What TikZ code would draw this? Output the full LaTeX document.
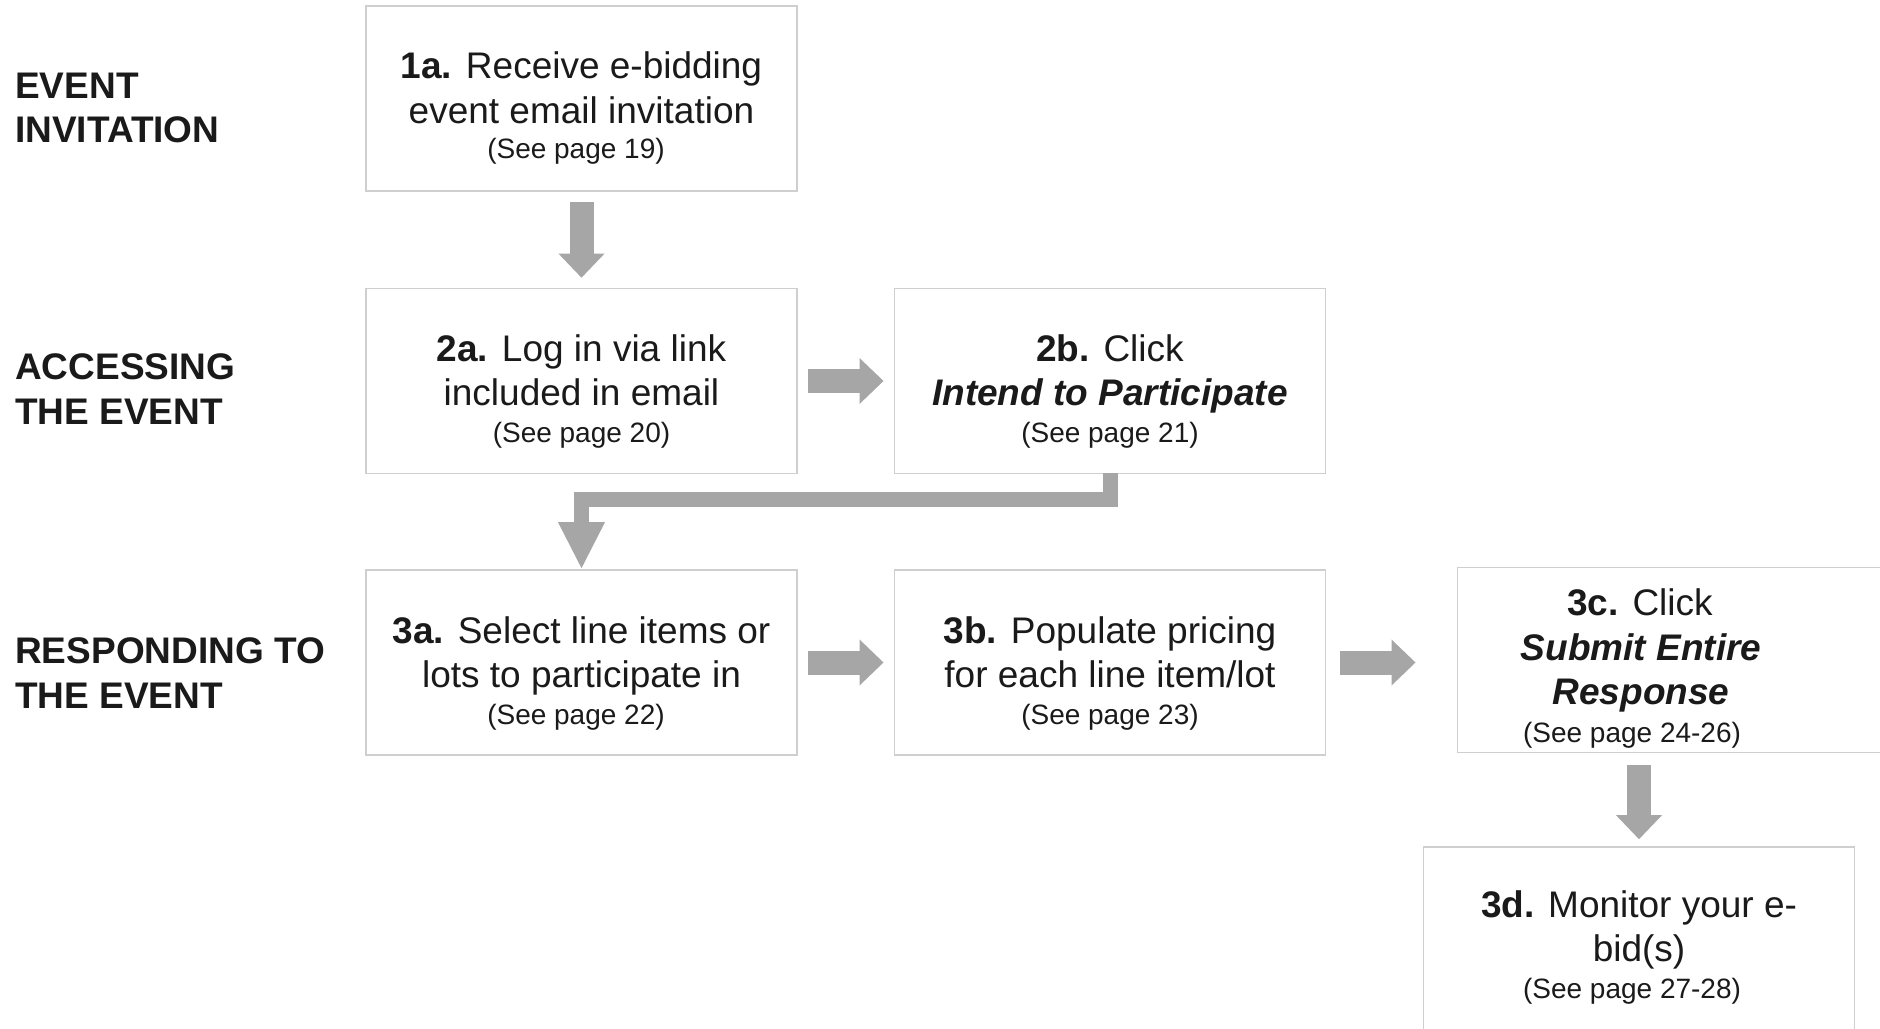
\documentclass[tikz,border=0pt]{standalone}
\usepackage{fontspec}
\setmainfont{Liberation Sans}
\usetikzlibrary{arrows.meta,calc}
\definecolor{boxline}{HTML}{CFCFCF}
\definecolor{arrowgray}{HTML}{A6A6A6}
\definecolor{txt}{HTML}{1A1A1A}
\tikzset{
  stepbox/.style={draw=boxline, line width=1.1pt, fill=white, minimum width=323.25pt, minimum height=138.5pt, inner sep=0pt, outer sep=0pt},
  blockarrow/.style={draw=arrowgray, line width=18pt, line cap=butt, -{Triangle[length=18pt,width=34.5pt,line width=0pt]}},
  elbowarrow/.style={draw=arrowgray, line width=11.25pt, line cap=butt, line join=miter, -{Triangle[length=34.5pt,width=35.25pt,line width=0pt]}},
  tx/.style={anchor=base, inner sep=0pt, text=txt, font=\fontsize{27.75}{33}\selectfont},
  sm/.style={anchor=base, inner sep=0pt, text=txt, font=\fontsize{21}{25}\selectfont},
  lab/.style={anchor=base west, inner sep=0pt, text=txt, font=\fontsize{27.75}{33}\selectfont\bfseries}
}
\begin{document}
\begin{tikzpicture}[x=0.75pt,y=-0.75pt]
\useasboundingbox (0,0) rectangle (1880,1028);
\clip (0,0) rectangle (1880,1028);
\fill[white] (0,0) rectangle (1880,1028);

% stage labels
\node[lab] (l1a) at (15,98) {EVENT};
\node[lab] (l1b) at (15,142) {INVITATION};
\node[lab] (l2a) at (15,379) {ACCESSING};
\node[lab] (l2b) at (15,424) {THE EVENT};
\node[lab] (l3a) at (15,663) {RESPONDING TO};
\node[lab] (l3b) at (15,708) {THE EVENT};

% boxes
\node[stepbox] (b1a) at (581.5,98.5) {};
\node[stepbox] (b2a) at (581.5,381) {};
\node[stepbox] (b2b) at (1110,381) {};
\node[stepbox] (b3a) at (581.5,662.5) {};
\node[stepbox] (b3b) at (1110,662.5) {};
\node[stepbox] (b3c) at (1673,660) {};
\node[stepbox] (b3d) at (1639,939.5) {};

% box texts
\node[tx] (t1a1) at (581.5,78) {\textbf{1a.} Receive e-bidding};
\node[tx] (t1a2) at (581.5,123) {event email invitation};
\node[sm] (t1a3) at (576,158) {(See page 19)};

\node[tx] (t2a1) at (581.5,361) {\textbf{2a.} Log in via link};
\node[tx] (t2a2) at (581.5,405) {included in email};
\node[sm] (t2a3) at (581.5,442) {(See page 20)};

\node[tx] (t2b1) at (1110,361) {\textbf{2b.} Click};
\node[tx] (t2b2) at (1110,405) {\textbf{\textit{Intend to Participate}}};
\node[sm] (t2b3) at (1110,442) {(See page 21)};

\node[tx] (t3a1) at (581.5,643) {\textbf{3a.} Select line items or};
\node[tx] (t3a2) at (581.5,687) {lots to participate in};
\node[sm] (t3a3) at (576,724) {(See page 22)};

\node[tx] (t3b1) at (1110,643) {\textbf{3b.} Populate pricing};
\node[tx] (t3b2) at (1110,687) {for each line item/lot};
\node[sm] (t3b3) at (1110,724) {(See page 23)};

\node[tx] (t3c1) at (1640,615) {\textbf{3c.} Click};
\node[tx] (t3c2) at (1641,660) {\textbf{\textit{Submit Entire}}};
\node[tx] (t3c3) at (1641,704) {\textbf{\textit{Response}}};
\node[sm] (t3c4) at (1632,742) {(See page 24-26)};

\node[tx] (t3d1) at (1639,917) {\textbf{3d.} Monitor your e-};
\node[tx] (t3d2) at (1639,961) {bid(s)};
\node[sm] (t3d3) at (1632,998) {(See page 27-28)};

% arrows
\draw[blockarrow, shorten <=8.25pt, shorten >=8.25pt] (b1a.south) -- (b2a.north);
\draw[blockarrow, shorten <=8.25pt, shorten >=8.25pt] (b2a.east) -- (b2b.west);
\draw[elbowarrow, shorten >=1.5pt] (b2b.south) -- ++(0,26.5) -| (b3a.north);
\draw[blockarrow, shorten <=8.25pt, shorten >=8.25pt] (b3a.east) -- (b3b.west);
\draw[blockarrow, shorten <=10.5pt, shorten >=31.5pt] (b3b.east) -- (b3b.east -| b3c.west);
\draw[blockarrow, shorten <=9.75pt, shorten >=6pt] (b3c.south -| b3d.north) -- (b3d.north);
\end{tikzpicture}
\end{document}
